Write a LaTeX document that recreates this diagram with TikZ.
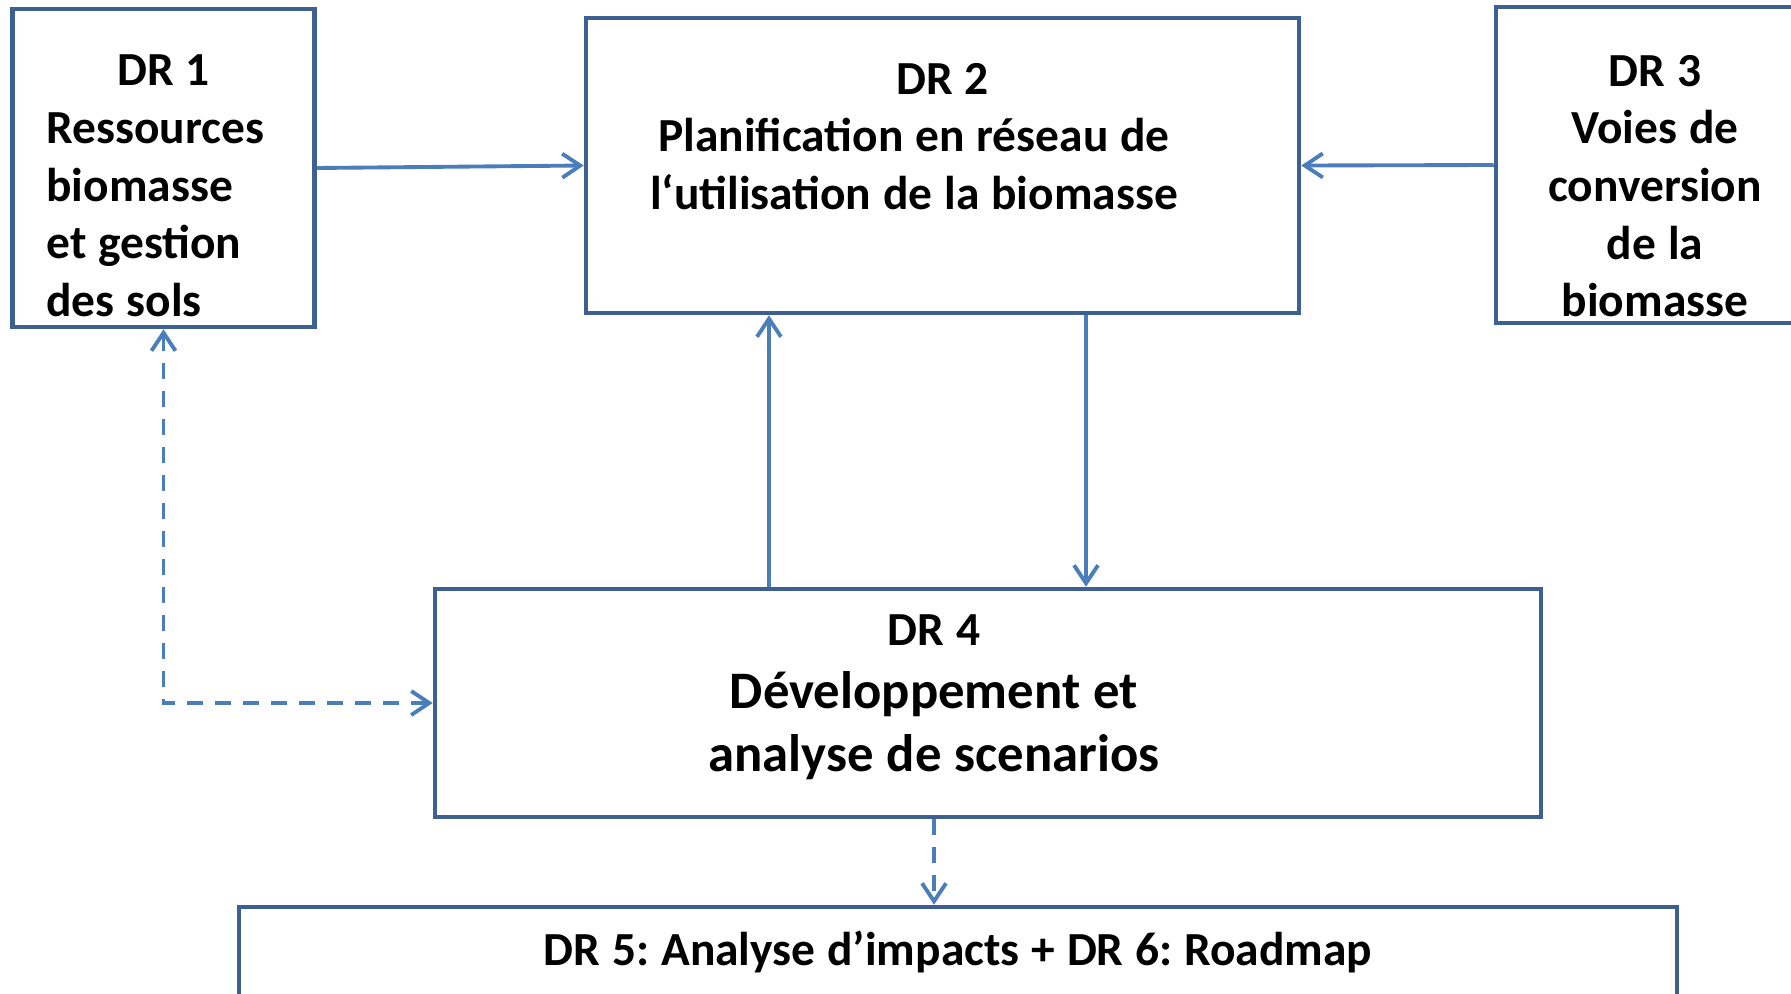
\documentclass[tikz,border=0pt]{standalone}
\usepackage{fontspec}
\setmainfont{Carlito}
\usetikzlibrary{positioning, arrows.meta}
\frenchspacing

\definecolor{boxblue}{RGB}{60,96,145}
\definecolor{linkblue}{RGB}{74,126,187}

\DeclareRobustCommand{\boxfont}[2]{\bfseries\fontsize{#1}{#2}\selectfont\spaceskip=0.25em\relax}

\begin{document}
\begin{tikzpicture}[>={Straight Barb[length=0.18cm, width=0.24cm]}]
        \tikzstyle{box} = [rectangle, draw=boxblue, line width=1.3pt, inner sep=0pt, font={\boxfont{13.5}{16.4}}, execute at begin node={\spaceskip=0.25em\relax}]
        \tikzstyle{arrow} = [draw=linkblue, line width=1.1pt, ->]
        \tikzstyle{dasharrow} = [arrow, dash pattern=on 0.16cm off 0.12cm]

        \clip (0,0) rectangle (17.91,-9.93);

        \node (dr1) [box, minimum width=3.02cm, minimum height=3.18cm, text width=2.34cm] at (1.635,-1.68) {\centering DR 1\par\raggedright Ressources\\biomasse\\et gestion\\des sols\par\kern-0.36cm};
        \node (dr2) [box, minimum width=7.13cm, minimum height=2.95cm, text width=7cm] at (9.425,-1.655) {\centering DR 2\\Planification en réseau de\kern0.57cm\\l‘utilisation de la biomasse\kern0.57cm\par\kern0.58cm};
        \node (dr3) [box, minimum width=3.18cm, minimum height=3.16cm, text width=3cm] at (16.55,-1.65) {\centering DR 3\\Voies de\\conversion\\de la\\biomasse\par\kern-0.42cm};
        \node (dr4) [box, minimum width=11.06cm, minimum height=2.28cm, text width=10.8cm] at (9.88,-7.03) {\centering DR 4\kern1.08cm\\{\boxfont{15}{17.9}Développement et\kern1.08cm\\analyse de scenarios\kern1.08cm\par}\kern0.12cm};
        \node (dr5) [box, minimum width=14.38cm, minimum height=2cm, text width=14cm] at (9.58,-10.07) {\centering DR 5: Analyse d’impacts + DR 6: Roadmap\par\kern1.1cm};

        \draw [arrow] (dr1.east) -- (dr2.west);
        \draw [arrow] (dr3.west) -- (dr2.east);
        \draw [arrow] ([xshift=-2.19cm]dr4.north) -- ([xshift=-2.19cm]dr4.north |- dr2.south);
        \draw [arrow] ([xshift=1.435cm]dr2.south) -- ([xshift=1.435cm]dr2.south |- dr4.north);
        \draw [dasharrow, <->] (dr1.south) |- (dr4.west);
        \draw [dasharrow] ([xshift=-0.54cm]dr4.south) -- ([xshift=-0.54cm]dr4.south |- dr5.north);
\end{tikzpicture}
\end{document}
